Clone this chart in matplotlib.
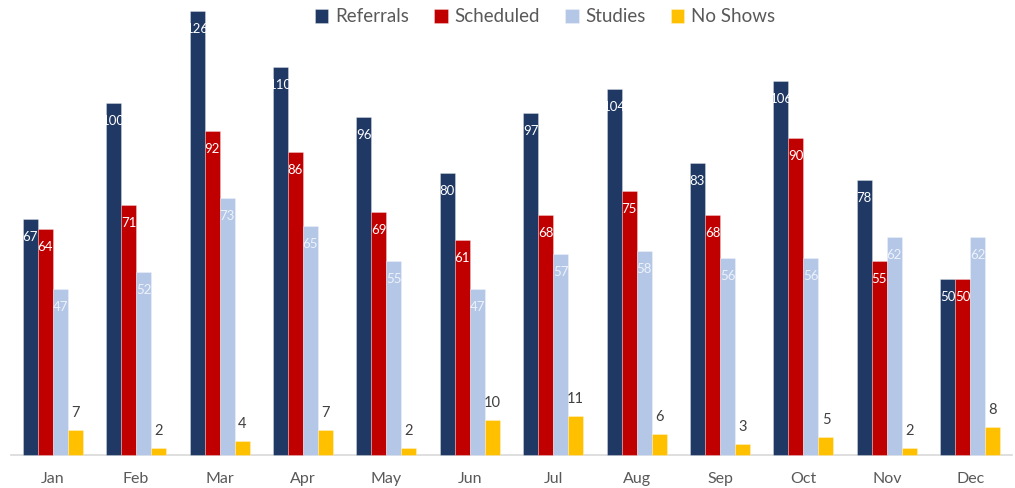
import matplotlib
matplotlib.use("Agg")
import matplotlib.pyplot as plt
import numpy as np

months = ["Jan", "Feb", "Mar", "Apr", "May", "Jun", "Jul", "Aug", "Sep", "Oct", "Nov", "Dec"]
referrals = [67, 100, 126, 110, 96, 80, 97, 104, 83, 106, 78, 50]
scheduled = [64, 71, 92, 86, 69, 61, 68, 75, 68, 90, 55, 50]
studies = [47, 52, 73, 65, 55, 47, 57, 58, 56, 56, 62, 62]
no_shows = [7, 2, 4, 7, 2, 10, 11, 6, 3, 5, 2, 8]

series_names = ["Referrals", "Scheduled", "Studies", "No Shows"]
colors = ["#1f3864", "#c00000", "#b4c7e7", "#ffc000"]
label_colors = ["white", "white", "#eef2fa", "#404040"]

plt.rcParams['font.family'] = ['Lato', 'DejaVu Sans']

W, H = 1015, 488
fig = plt.figure(figsize=(W / 100, H / 100), dpi=100)
ax_left, ax_right = 11 / W, 1012 / W
ax_bottom, ax_top = 1 - 455 / H, 1 - 11 / H
ax = fig.add_axes([ax_left, ax_bottom, ax_right - ax_left, ax_top - ax_bottom])

x = np.arange(len(months))
bw = 0.18
data = [referrals, scheduled, studies, no_shows]
for i, (vals, c, name, lc) in enumerate(zip(data, colors, series_names, label_colors)):
    pos = x + (i - 1.5) * bw
    ax.bar(pos, vals, width=bw, color=c, label=name, edgecolor=(1, 1, 1, 0.35),
           linewidth=0.6, clip_on=False, zorder=2)
    for p, v in zip(pos, vals):
        if i < 3:
            ax.annotate(str(v), (p, v), xytext=(0, -18), textcoords='offset pixels',
                        ha='center', va='center', color=lc, fontsize=9.5, zorder=3,
                        annotation_clip=False)
        else:
            ax.annotate(str(v), (p, v), xytext=(0, 17), textcoords='offset pixels',
                        ha='center', va='center', color=lc, fontsize=10.5, zorder=3,
                        annotation_clip=False)

ax.set_xlim(-0.5, len(months) - 0.5)
ax.set_ylim(0, 126)
ax.set_xticks(x)
ax.set_xticklabels(months, fontsize=11.5, color="#595959")
ax.tick_params(axis='x', length=0, pad=12)
ax.set_yticks([])
for s in ["top", "right", "left"]:
    ax.spines[s].set_visible(False)
ax.spines["bottom"].set_color("#d9d9d9")
ax.spines["bottom"].set_linewidth(1.2)
ax.spines["bottom"].set_zorder(1)
ax.patch.set_alpha(0)

fig.legend(loc='center', bbox_to_anchor=(545 / W, 1 - 17 / H), ncol=4, frameon=False,
           fontsize=13.5, handlelength=0.72, handleheight=0.72, handletextpad=0.35,
           columnspacing=1.35, labelcolor="#595959")

fig.savefig("out.png", dpi=100)
